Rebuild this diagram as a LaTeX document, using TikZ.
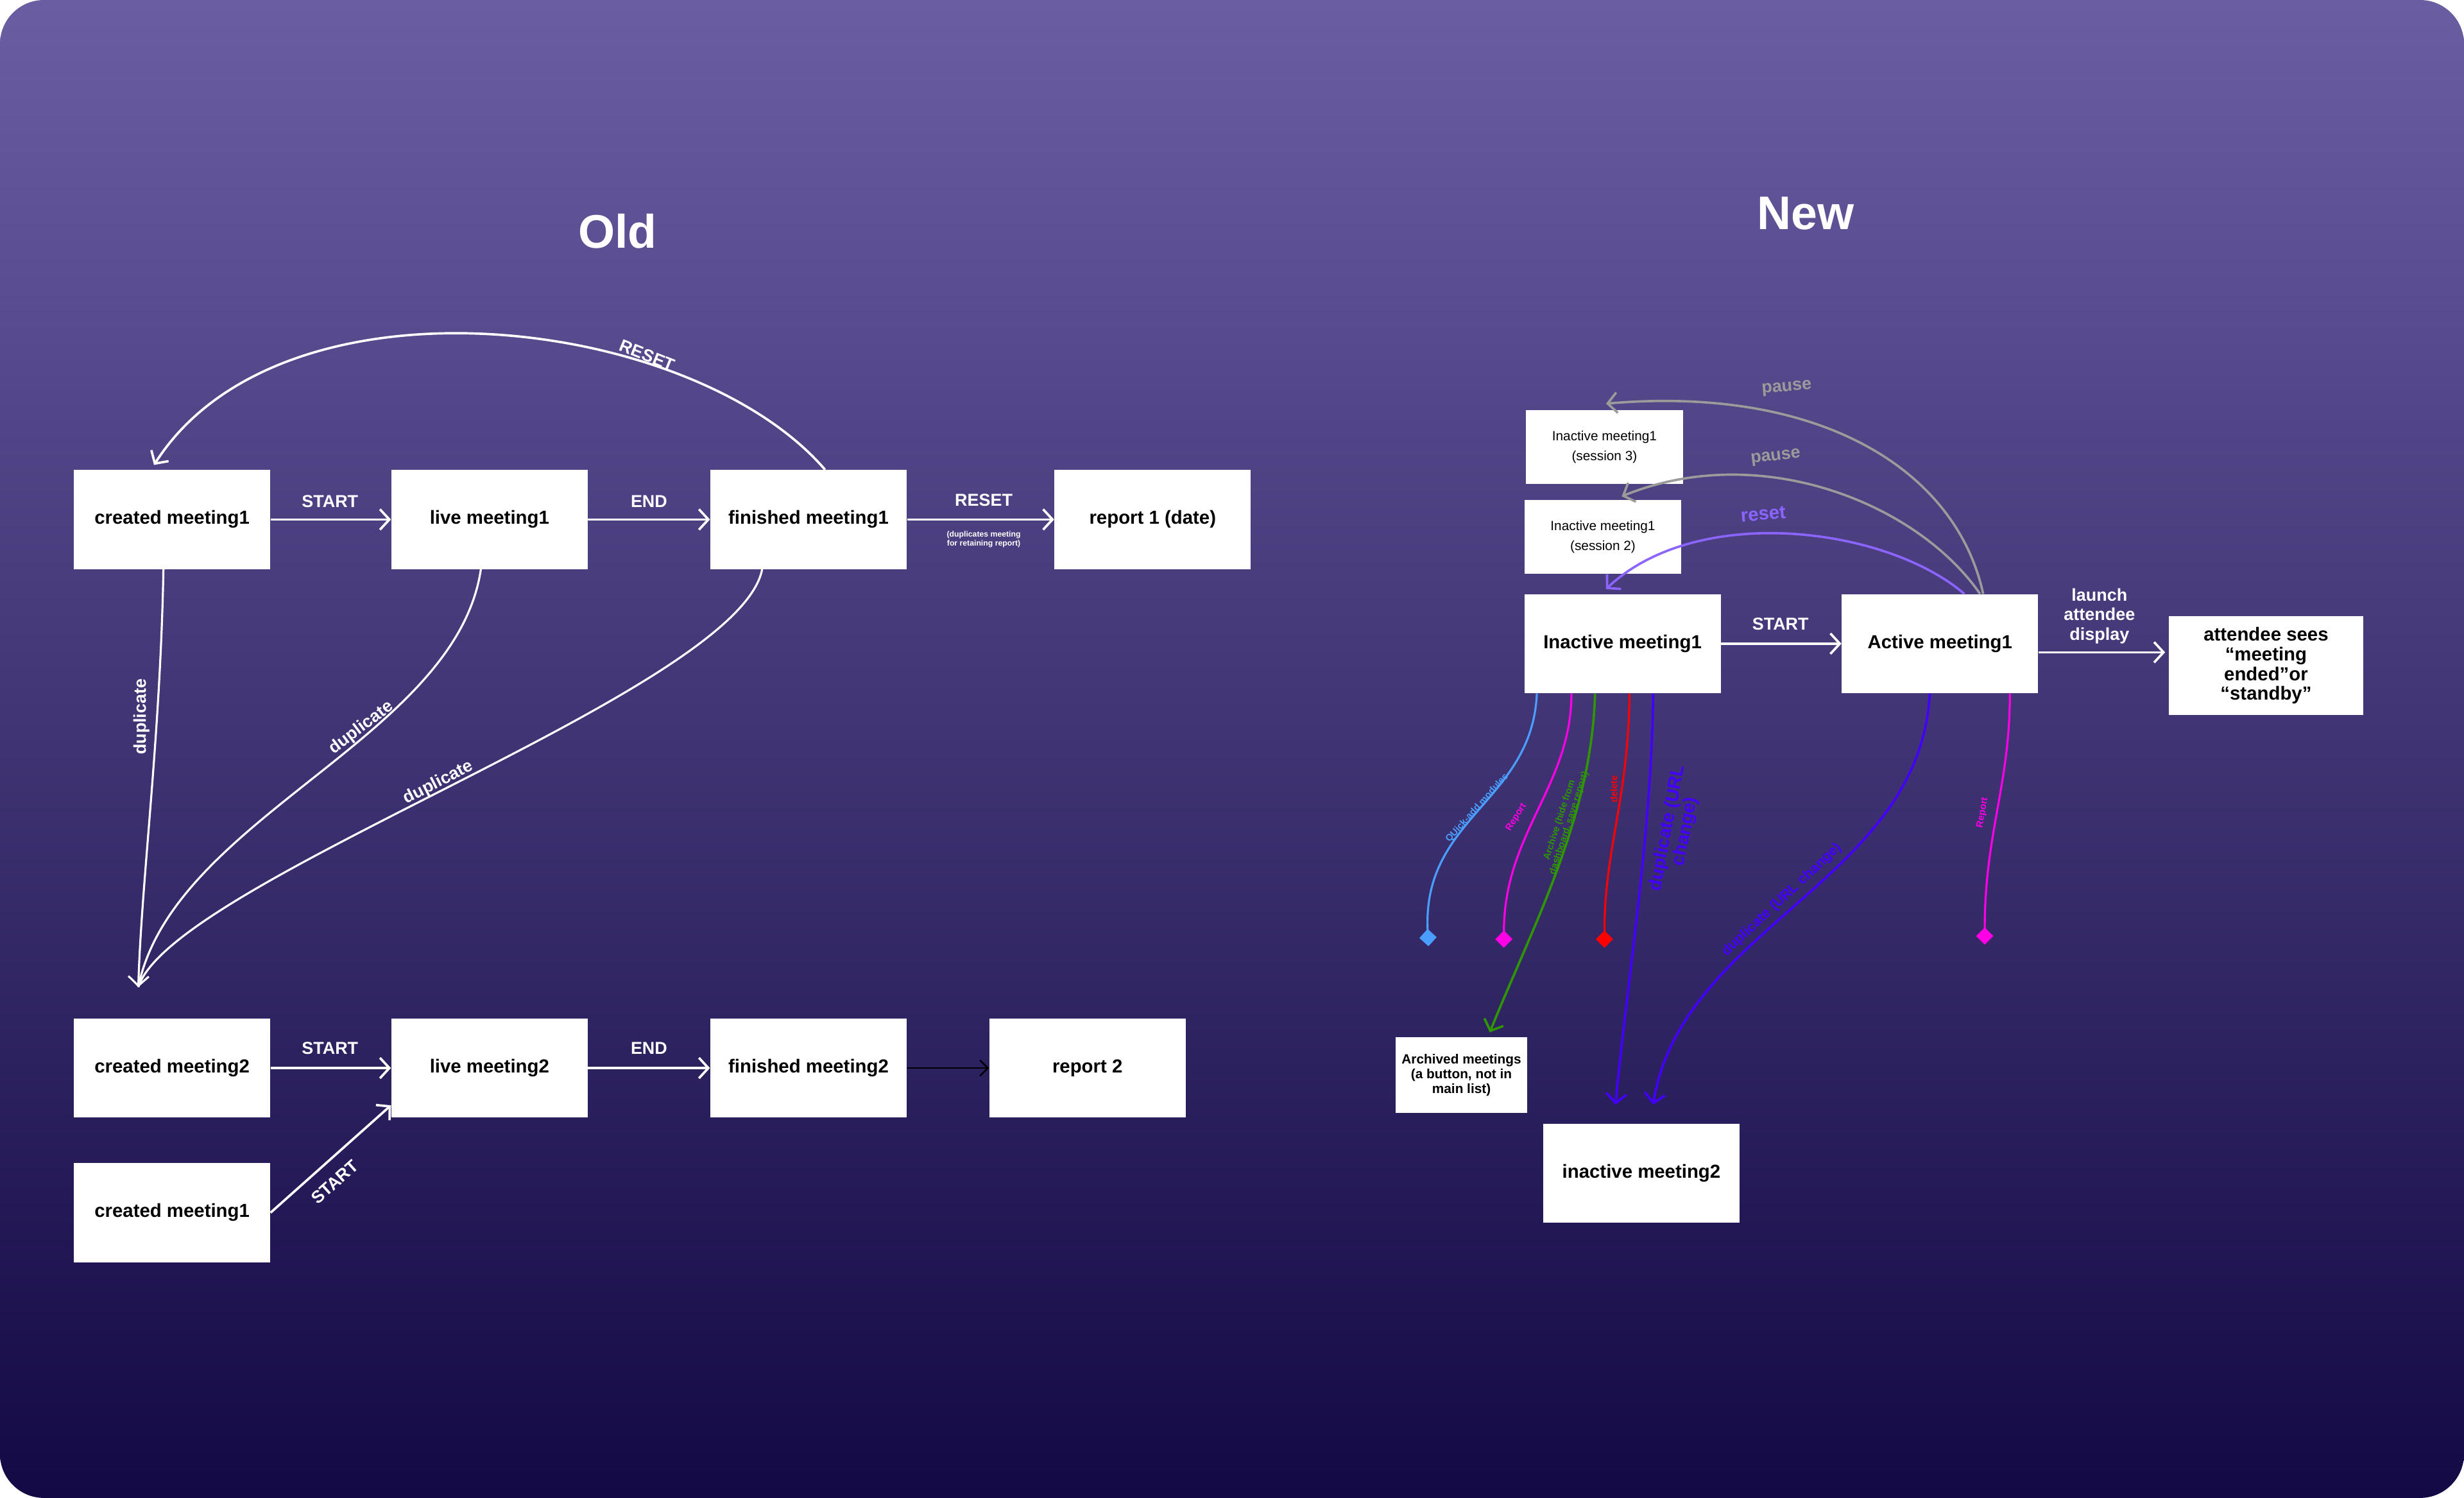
\documentclass[tikz,border=0pt]{standalone}
\usepackage{fontspec}
\setmainfont{Liberation Sans}
\usetikzlibrary{arrows.meta}

\definecolor{bgtop}{RGB}{107,93,162}
\definecolor{bgbot}{RGB}{19,9,68}
\definecolor{qblue}{RGB}{74,158,255}
\definecolor{rmag}{RGB}{255,0,230}
\definecolor{agreen}{RGB}{46,150,0}
\definecolor{dred}{RGB}{255,0,0}
\definecolor{dviolet}{RGB}{68,0,255}
\definecolor{pgray}{RGB}{155,155,155}
\definecolor{rpurple}{RGB}{140,100,255}

\tikzset{
  box/.style={fill=white, minimum width=125pt, minimum height=63pt, inner sep=0pt,
    align=center, font=\bfseries\fontsize{12}{12.5}\selectfont},
  sbox/.style={fill=white, minimum width=100pt, minimum height=47pt, inner sep=0pt,
    align=center, font=\fontsize{8.5}{12.5}\selectfont},
  lbl/.style={text=white, inner sep=0pt, align=center, font=\bfseries\fontsize{11}{12.5}\selectfont},
  tiny/.style={inner sep=0pt, align=center, font=\bfseries\fontsize{6}{6.3}\selectfont},
  title/.style={text=white, font=\bfseries\fontsize{30}{36}\selectfont},
  flow/.style={draw=white, line width=1.5pt, -{Straight Barb[length=6pt,width=13pt]}},
  dupline/.style={draw=white, line width=1.3pt},
  cflow/.style={line width=1.5pt, -{Straight Barb[length=6pt,width=13pt]}},
  dotend/.style={line width=1.3pt, -{Turned Square[length=11pt,width=11pt]}}
}

\begin{document}
\begin{tikzpicture}[x=1pt, y=-1pt]
    % background
    \useasboundingbox (0,0) rectangle (1568,953);
    \shade[top color=bgtop, bottom color=bgbot, rounded corners=28pt] (0,0) rectangle (1568,953);

    \node[title] (tOld) at (393,147) {Old};
    \node[title] (tNew) at (1149,136) {New};

    % ---- Old: first meeting
    \node[box] (cm1) at (109.5,330.5) {created meeting1};
    \node[box] (live1) at (311.5,330.5) {live meeting1};
    \node[box] (fin1) at (514.5,330.5) {finished meeting1};
    \node[box] (rep1) at (733.5,330.5) {report 1 (date)};

    \draw[flow] (cm1) -- (live1);
    \draw[flow] (live1) -- (fin1);
    \draw[flow] (fin1) -- (rep1);
    \node[lbl] (lStartA) at (210,319) {START};
    \node[lbl] (lEndA) at (413,319) {END};
    \node[lbl] (lResetA) at (626,318) {RESET};
    \node[tiny, text=white, font=\bfseries\fontsize{5}{5.6}\selectfont] (lKeep) at (626,343) {(duplicates meeting\\for retaining report)};

    % reset back to created
    \draw[flow] ([xshift=10.5pt]fin1.north) .. controls (440,200) and (179,169) .. ([xshift=-11.5pt,yshift=3pt]cm1.north);
    \node[lbl, rotate=-22] (lResetB) at (412,226) {RESET};

    % duplicates
    \coordinate (dupTip) at (88,628);
    \draw[dupline, -{Straight Barb[length=6pt,width=13pt]}] ([xshift=-5.5pt]cm1.south) .. controls (102,470) and (90,560) .. (dupTip);
    \draw[dupline] ([xshift=-5.5pt]live1.south) .. controls (290,470) and (110,520) .. (dupTip);
    \draw[dupline] ([xshift=-29.5pt]fin1.south) .. controls (470,440) and (110,560) .. (dupTip);
    \node[lbl, rotate=90] (lDupA) at (90,456) {duplicate};
    \node[lbl, rotate=37] (lDupB) at (230,463) {duplicate};
    \node[lbl, rotate=27] (lDupC) at (279,498) {duplicate};

    % ---- Old: second meeting
    \node[box] (cm2) at (109.5,679.5) {created meeting2};
    \node[box] (live2) at (311.5,679.5) {live meeting2};
    \node[box] (fin2) at (514.5,679.5) {finished meeting2};
    \node[box] (rep2) at (692,679.5) {report 2};
    \node[box] (cm1b) at (109.5,771.5) {created meeting1};

    \draw[flow] (cm2) -- (live2);
    \draw[flow] (live2) -- (fin2);
    \draw[line width=1pt, -{Straight Barb[length=5pt,width=10pt]}] (fin2) -- (rep2);
    \draw[flow] (cm1b.east) -- ([yshift=8pt]live2.south west);
    \node[lbl] (lStartB) at (210,667) {START};
    \node[lbl] (lEndB) at (413,667) {END};
    \node[lbl, rotate=42] (lStartC) at (213,752) {START};

    % ---- New
    \node[sbox] (s3) at (1021,284.5) {Inactive meeting1\\(session 3)};
    \node[sbox] (s2) at (1020,341.5) {Inactive meeting1\\(session 2)};
    \node[box] (inact) at (1032.5,409.5) {Inactive meeting1};
    \node[box] (act) at (1234.5,409.5) {Active meeting1};
    \node[box, minimum width=124pt] (att) at (1442,423.5) {attendee sees\\“meeting\\ended”or\\“standby”};
    \node[box, minimum width=84pt, minimum height=48pt, font=\bfseries\fontsize{8.5}{9.5}\selectfont] (arch) at (930,684) {Archived meetings\\(a button, not in\\main list)};
    \node[box] (inact2) at (1044.5,746.5) {inactive meeting2};

    \draw[flow] (inact) -- (act);
    \node[lbl] (lStartN) at (1133,397) {START};
    \coordinate (launch) at ([yshift=-5.5pt]act.east);
    \draw[flow] (launch) -- ([xshift=-2pt]launch -| att.west);
    \node[lbl] (lLaunch) at (1336,392) {launch\\attendee\\display};

    % pause / reset back to the inactive states
    \draw[cflow, draw=pgray] ([xshift=27.5pt]act.north) .. controls (1245,300) and (1160,245) .. ([xshift=1pt,yshift=4pt]s3.north);
    \draw[cflow, draw=pgray] ([xshift=25.5pt]act.north) .. controls (1220,320) and (1120,280) .. ([xshift=12pt,yshift=2pt]s2.north);
    \draw[cflow, draw=rpurple] ([xshift=15.5pt]act.north) .. controls (1200,335) and (1080,320) .. ([xshift=-10.5pt,yshift=3pt]inact.north);
    \node[lbl, text=pgray, rotate=5] (lPauseA) at (1137,247) {pause};
    \node[lbl, text=pgray, rotate=7] (lPauseB) at (1130,291) {pause};
    \node[lbl, text=rpurple, rotate=5, font=\bfseries\fontsize{12}{12}\selectfont] (lResetN) at (1122,327) {reset};

    % actions from the inactive meeting
    \draw[dotend, draw=qblue] ([xshift=-54.5pt]inact.south) .. controls (975,510) and (905,520) .. (909,602);
    \draw[dotend, draw=rmag] ([xshift=-32.5pt]inact.south) .. controls (1000,500) and (957,530) .. (957,603);
    \draw[cflow, draw=agreen] ([xshift=-17.5pt]inact.south) .. controls (1013,520) and (975,590) .. ([xshift=18pt,yshift=3pt]arch.north);
    \draw[dotend, draw=dred] ([xshift=4.5pt]inact.south) .. controls (1036,510) and (1021,540) .. (1021,603);
    \draw[cflow, draw=dviolet] ([xshift=19.5pt]inact.south) .. controls (1051,530) and (1036,620) .. ([xshift=-16.5pt,yshift=12pt]inact2.north);
    \node[tiny, text=qblue, rotate=48] (lQuick) at (940,514) {QUick-add modules};
    \node[tiny, text=rmag, rotate=58] (lRepA) at (965,520) {Report};
    \node[tiny, text=agreen, rotate=72] (lArch) at (995.5,522.7) {Archive (hide from\\dashboard, save report)};
    \node[tiny, text=dred, rotate=90] (lDel) at (1027,502) {delete};
    \node[tiny, text=dviolet, rotate=79, font=\bfseries\fontsize{11.5}{10.5}\selectfont] (lDupN) at (1067,528) {duplicate (URL\\change)};

    % actions from the active meeting
    \draw[cflow, draw=dviolet] ([xshift=-6.5pt]act.south) .. controls (1222,560) and (1070,590) .. ([xshift=7.5pt,yshift=12pt]inact2.north);
    \draw[dotend, draw=rmag] ([xshift=44.5pt]act.south) .. controls (1279,500) and (1263,530) .. (1263,601);
    \node[tiny, text=dviolet, rotate=43, font=\bfseries\fontsize{9}{9}\selectfont] (lDupM) at (1134,572.5) {duplicate (URL change)};
    \node[tiny, text=rmag, rotate=80] (lRepB) at (1261.7,517) {Report};

\end{tikzpicture}
\end{document}
